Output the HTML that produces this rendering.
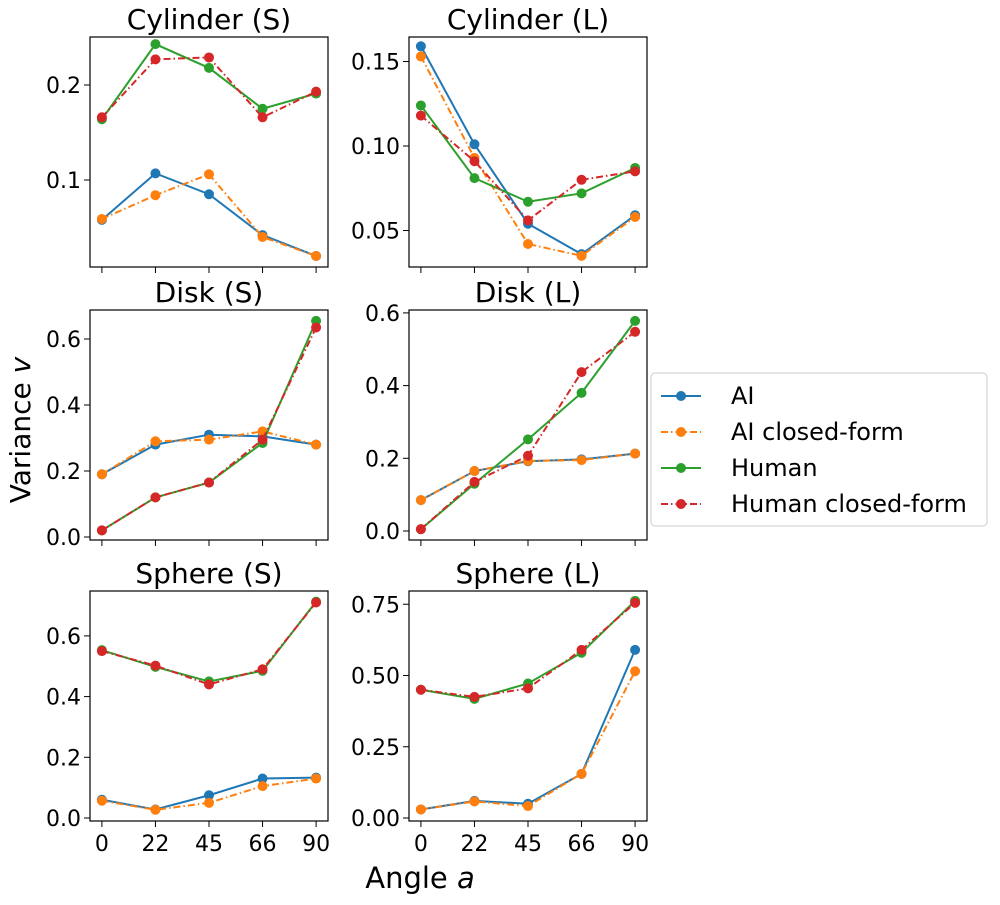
<!DOCTYPE html>
<html><head><meta charset="utf-8"><style>
body{margin:0;background:#fff;}
svg{font-family:"DejaVu Sans","Liberation Sans",sans-serif;}
</style></head><body>
<svg id="fig" width="1000" height="900" xmlns="http://www.w3.org/2000/svg"></svg>
<script>
const categories = ["0","22","45","66","90"];
const seriesNames = ["AI","AI closed-form","Human","Human closed-form"];
const panelTitles = ["Cylinder (S)","Cylinder (L)","Disk (S)","Disk (L)","Sphere (S)","Sphere (L)"];
const cylS_AI = [0.058,0.107,0.085,0.042,0.020];
const cylS_AIcf = [0.059,0.084,0.106,0.040,0.020];
const cylS_H = [0.164,0.243,0.218,0.175,0.191];
const cylS_Hcf = [0.166,0.227,0.229,0.166,0.193];
const cylL_AI = [0.159,0.101,0.054,0.036,0.059];
const cylL_AIcf = [0.153,0.093,0.042,0.035,0.058];
const cylL_H = [0.124,0.081,0.067,0.072,0.087];
const cylL_Hcf = [0.118,0.091,0.056,0.080,0.085];
const diskS_AI = [0.19,0.28,0.31,0.305,0.28];
const diskS_AIcf = [0.19,0.29,0.295,0.32,0.28];
const diskS_H = [0.02,0.12,0.165,0.285,0.655];
const diskS_Hcf = [0.02,0.12,0.165,0.295,0.635];
const diskL_AI = [0.085,0.165,0.192,0.197,0.213];
const diskL_AIcf = [0.085,0.165,0.193,0.195,0.213];
const diskL_H = [0.005,0.13,0.252,0.38,0.578];
const diskL_Hcf = [0.005,0.135,0.207,0.437,0.548];
const sphS_AI = [0.06,0.028,0.075,0.13,0.133];
const sphS_AIcf = [0.057,0.027,0.05,0.105,0.13];
const sphS_H = [0.553,0.498,0.45,0.485,0.713];
const sphS_Hcf = [0.55,0.502,0.44,0.49,0.71];
const sphL_AI = [0.03,0.06,0.05,0.155,0.59];
const sphL_AIcf = [0.03,0.058,0.042,0.155,0.515];
const sphL_H = [0.45,0.418,0.472,0.58,0.762];
const sphL_Hcf = [0.45,0.425,0.455,0.59,0.755];
const ticksCylS = [0.1,0.2];
const ticksCylL = [0.05,0.10,0.15];
const ticksDiskS = [0.0,0.2,0.4,0.6];
const ticksDiskL = [0.0,0.2,0.4,0.6];
const ticksSphS = [0.0,0.2,0.4,0.6];
const ticksSphL = [0.00,0.25,0.50,0.75];
const tickDecimals = [1,2,1,1,1,2];

const colors=["#1f77b4","#ff7f0e","#2ca02c","#d62728"];
const dashes=[null,"7,3,1.5,3",null,"7,3,1.5,3"];
const NS="http://www.w3.org/2000/svg";
const svg=document.getElementById('fig');
function mk(tag,attrs,parent){const e=document.createElementNS(NS,tag);for(const k in attrs)e.setAttribute(k,attrs[k]);(parent||svg).appendChild(e);return e;}

const panelData=[[cylS_AI,cylS_AIcf,cylS_H,cylS_Hcf],[cylL_AI,cylL_AIcf,cylL_H,cylL_Hcf],[diskS_AI,diskS_AIcf,diskS_H,diskS_Hcf],[diskL_AI,diskL_AIcf,diskL_H,diskL_Hcf],[sphS_AI,sphS_AIcf,sphS_H,sphS_Hcf],[sphL_AI,sphL_AIcf,sphL_H,sphL_Hcf]];
const panelTicks=[ticksCylS,ticksCylL,ticksDiskS,ticksDiskL,ticksSphS,ticksSphL];
const calib=[[0.2,85,950],[0.10,146,1690],[0,537,330],[0,531,363.5],[0,818,303.5],[0,818,285]];
const lefts=[90,409], tops=[37,310,591], W=238, H=230;

for(let p=0;p<6;p++){
  const col=p%2,row=Math.floor(p/2);
  const L=lefts[col],T=tops[row];
  const g=mk('g',{});
  
  
  const xs=i=>L+W*0.05+i*(W*0.9/(categories.length-1));
  const [v0,p0,k]=calib[p];
  const ys=v=>p0-(v-v0)*k;
  const t=mk('text',{x:L+W/2,y:T-8,'text-anchor':'middle','font-size':28,fill:'#000'},g);
  t.textContent=panelTitles[p];
  
  
  panelTicks[p].forEach(v=>{
    const y=ys(v);
    mk('line',{x1:L-6,x2:L,y1:y,y2:y,stroke:'#000','stroke-width':1},g);
    const tl=mk('text',{x:L-9,y:y+8,'text-anchor':'end','font-size':22,fill:'#000'},g);
    tl.textContent=v.toFixed(tickDecimals[p]);
    
    
  });
  categories.forEach((c,i)=>{
    const x=xs(i);
    mk('line',{x1:x,x2:x,y1:T+H,y2:T+H+6,stroke:'#000','stroke-width':1},g);
    if(row===2){
      const tl=mk('text',{x:x,y:T+H+30,'text-anchor':'middle','font-size':22,fill:'#000'},g);
      tl.textContent=c;
      
      
    }
  });
  panelData[p].forEach((vals,s)=>{
    const pts=vals.map((v,i)=>xs(i)+','+ys(v)).join(' ');
    const a={points:pts,fill:'none',stroke:colors[s],'stroke-width':2};
    if(dashes[s])a['stroke-dasharray']=dashes[s];
    const pl=mk('polyline',a,g);
    
    
    vals.forEach((v,i)=>{
      const c=mk('circle',{cx:xs(i),cy:ys(v),r:5,fill:colors[s]},g);
      
      
    });
  });
  mk('rect',{x:L,y:T,width:W,height:H,fill:'none',stroke:'#000','stroke-width':1.2},g);
}
const yl=mk('text',{x:0,y:0,transform:'translate(30,430) rotate(-90)','text-anchor':'middle','font-size':28,fill:'#000'});
yl.innerHTML='Variance <tspan font-style="italic">v</tspan>';


const xl=mk('text',{x:420,y:888,'text-anchor':'middle','font-size':29,fill:'#000'});
xl.innerHTML='Angle <tspan font-style="italic">a</tspan>';


const lg=mk('g',{});


mk('rect',{x:651,y:373,width:336,height:153,rx:4,fill:'#fff',stroke:'#ccc','stroke-width':1},lg);
seriesNames.forEach((n,s)=>{
  const y=396+s*36;
  const e=mk('g',{},lg);
  
  
  const a={x1:661,x2:701,y1:y,y2:y,stroke:colors[s],'stroke-width':2};
  if(dashes[s])a['stroke-dasharray']=dashes[s];
  mk('line',a,e);
  mk('circle',{cx:681,cy:y,r:5,fill:colors[s]},e);
  const t=mk('text',{x:731,y:y+8,'font-size':24,fill:'#000'},e);
  t.textContent=n;
});
</script>
</body></html>
